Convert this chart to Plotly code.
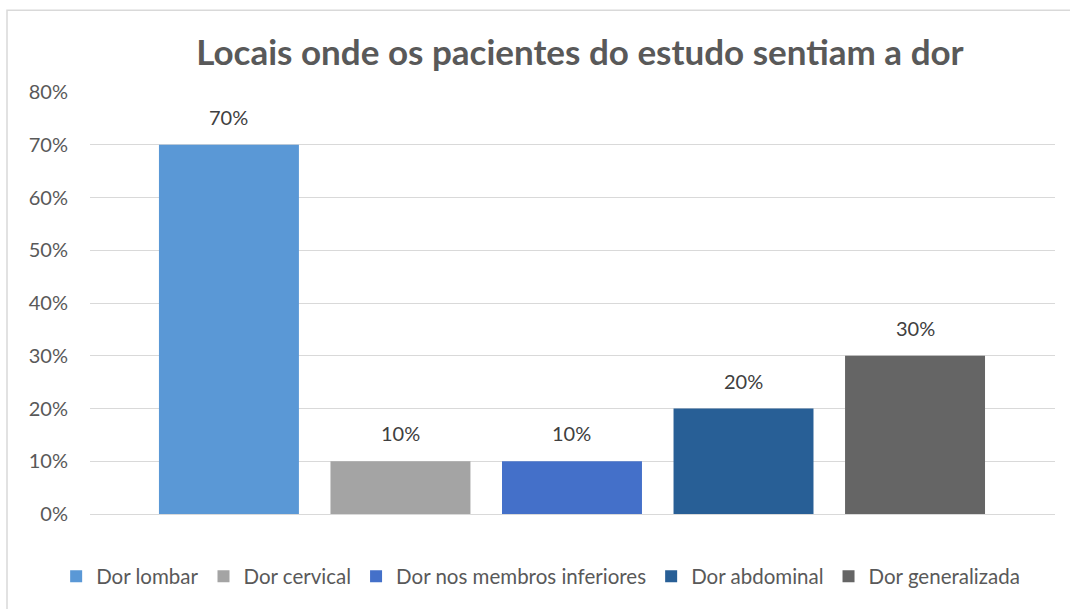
import plotly.graph_objects as go

title = "Locais onde os pacientes do estudo sentiam a dor"
series_names = ["Dor lombar", "Dor cervical", "Dor nos membros inferiores",
                "Dor abdominal", "Dor generalizada"]
values = [0.70, 0.10, 0.10, 0.20, 0.30]
colors = ["#5a98d6", "#a4a4a4", "#4470c9", "#285f96", "#656565"]
y_ticks = [0, 0.1, 0.2, 0.3, 0.4, 0.5, 0.6, 0.7, 0.8]

FONT = "Lato, Open Sans, sans-serif"
BAR_W = 0.816

fig = go.Figure()
for i, (name, v, c) in enumerate(zip(series_names, values, colors)):
    fig.add_trace(go.Bar(
        x=[i], y=[v], name=name, width=BAR_W,
        marker=dict(color=c, line=dict(width=0)),
        hoverinfo="name+y",
    ))
    fig.add_annotation(x=i, y=v, text=f"{v:.0%}", showarrow=False,
                       yanchor="bottom", yshift=14,
                       font=dict(size=20, color="#404040", family=FONT))

fig.update_layout(
    width=1070, height=609,
    paper_bgcolor="white", plot_bgcolor="white",
    margin=dict(l=90, r=15, t=92, b=95),
    barmode="overlay",
    title=dict(text=f"<b>{title}</b>", x=0.542, xanchor="center",
               y=0.913, yanchor="middle",
               font=dict(size=35, color="#595959", family=FONT)),
    font=dict(family=FONT, color="#595959", size=20),
    xaxis=dict(range=[-0.81, 4.816], showticklabels=False, showgrid=False,
               zeroline=False, showline=False, ticks=""),
    yaxis=dict(range=[0, 0.8], tickvals=y_ticks, tickformat=".0%",
               showgrid=True, gridcolor="#d9d9d9", gridwidth=1,
               zeroline=True, zerolinecolor="#d9d9d9", zerolinewidth=1,
               showline=False, ticks="outside", ticklen=17, tickcolor="white",
               tickfont=dict(size=20, color="#595959")),
    legend=dict(orientation="h", x=0.467, xanchor="center", y=-0.148,
                yanchor="middle", font=dict(size=20.5, color="#595959"),
                itemwidth=30, tracegroupgap=0, traceorder="normal"),
    shapes=[dict(type="rect", xref="paper", yref="paper",
                 x0=-0.086, x1=1.05, y0=-0.3, y1=1.194,
                 line=dict(color="#d9d9d9", width=1.5),
                 fillcolor="rgba(0,0,0,0)", layer="below")],
)

fig.write_html("out.html", config={"displayModeBar": False},
               post_script="document.body.style.margin='0';document.body.style.overflow='hidden';")
